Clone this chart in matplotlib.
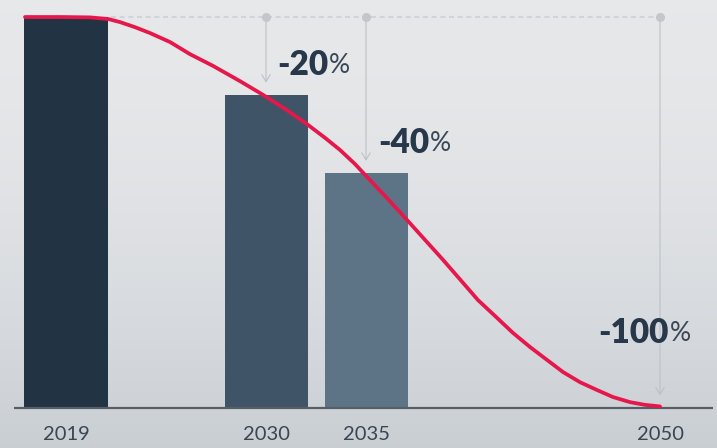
import numpy as np
import matplotlib.pyplot as plt

# --- Data ---
years = ["2019", "2030", "2035", "2050"]
emissions = [100, 80, 60, 0]          # index, 2019 = 100
reduction_labels = ["", "-20", "-40", "-100"]

# trajectory curve (x in slot units, y as index)
curve_x = [-2.05, -0.3, 1.2, 2.1, 2.7, 3.45, 4.2, 5.2, 6.2, 7.35, 8.7,
           9.85, 10.95, 12.05, 12.95, 13.7, 14.45, 15.05, 16.05, 17.05,
           18.85, 20.6, 21.5, 22.35, 23.2, 24.05, 24.85, 25.7, 26.55,
           27.35, 28.2, 28.95, 29.7]
curve_y = [100, 100, 99.9, 99.5, 98.7, 97.4, 95.9, 93.6, 90.5, 87.5, 83.6,
           80.1, 76.5, 72.6, 69.1, 66.0, 62.4, 59.1, 53.7, 48.1,
           37.9, 27.6, 23.3, 19.2, 15.6, 12.3, 9.2, 6.6, 4.6,
           2.8, 1.5, 0.8, 0.4]

# --- Layout ---
x_pos = [0, 10, 15, 29.7]
bar_width = 4.15
bar_colors = ["#223343", "#3f5466", "#5d7487"]
red = "#e6174b"
text_dark = "#27384a"

plt.rcParams['font.family'] = ['Lato', 'DejaVu Sans']

fig = plt.figure(figsize=(7.17, 4.48), dpi=100)

# sky-like background gradient
bg = fig.add_axes([0, 0, 1, 1], zorder=0)
grad = np.linspace(0, 1, 256).reshape(-1, 1)
top = np.array([0.905, 0.910, 0.918])
bottom = np.array([0.79, 0.81, 0.83])
img = top + (bottom - top) * (grad ** 1.8)[:, :, None]
bg.imshow(img, aspect='auto', extent=[0, 1, 0, 1], origin='upper')
bg.axis('off')

ax = fig.add_axes([0, 0, 1, 1], zorder=1)
ax.patch.set_alpha(0)
ax.set_xlim(-3.3, 32.55)
ax.set_ylim(-10.23, 104.35)
ax.axis('off')

# bars (2050 has zero height)
ax.bar(x_pos[:3], emissions[:3], width=bar_width, color=bar_colors, zorder=2)

# baseline
ax.plot([-2.6, 32.35], [0, 0], color="#575e66", lw=1.6, zorder=2,
        solid_capstyle='butt')

# dashed reference line at the 2019 level
ax.plot([x_pos[0] + bar_width / 2 + 0.15, x_pos[3]], [emissions[0]] * 2,
        color="#cdd0d4", lw=1.2, dashes=(3, 2.2), zorder=1)
ax.plot(x_pos[1:], [emissions[0]] * 3, 'o', color="#c3c6ca", ms=5.5, zorder=3)

# arrows down to each target
for xp, val in zip(x_pos[1:], emissions[1:]):
    ax.annotate("", xy=(xp, val), xytext=(xp, emissions[0]),
                arrowprops=dict(arrowstyle="->,head_length=0.5,head_width=0.3",
                                color="#bdc1c6", lw=0.8,
                                shrinkA=0, shrinkB=9),
                zorder=1)

# trajectory
ax.plot(curve_x, curve_y, color=red, lw=2.7, zorder=4,
        solid_capstyle='round', solid_joinstyle='round')

# reduction labels
offsets = [None, (11, 30), (12, 30), (-62, 75)]
for xp, val, lab, off in zip(x_pos, emissions, reduction_labels, offsets):
    if not lab:
        continue
    t = ax.annotate(lab, xy=(xp, val), xytext=off, textcoords='offset pixels',
                    ha='left', va='center', fontsize=24, fontweight='heavy',
                    color=text_dark, zorder=5)
    ax.annotate("%", xy=(1, 0.5), xycoords=t, xytext=(1, 0),
                textcoords='offset pixels', ha='left', va='center',
                fontsize=19, color="#3a4856", zorder=5)

# year labels
for xp, yr in zip(x_pos, years):
    ax.text(xp, -6.9, yr, ha='center', va='center', fontsize=14.5,
            color="#3a4652", zorder=5)

fig.savefig("out.png", dpi=100)
